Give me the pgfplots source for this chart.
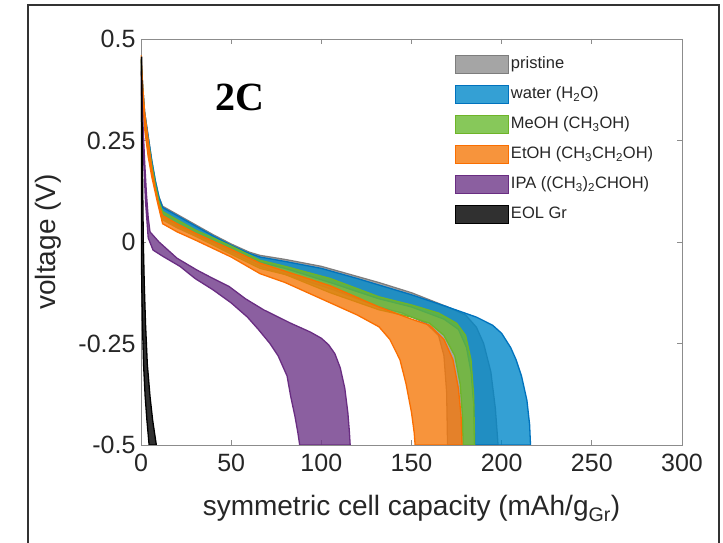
\documentclass[border=0pt]{standalone}
\usepackage{fontspec}
\setmainfont{Liberation Sans}
\newfontfamily\seriffont{Liberation Serif}
\usepackage{pgfplots}
\pgfplotsset{compat=1.18}
\definecolor{cgray}{RGB}{143,143,143}
\definecolor{cgrayE}{RGB}{125,125,125}
\definecolor{cblue}{RGB}{1,136,201}
\definecolor{cblueE}{RGB}{0,114,189}
\definecolor{cgreen}{RGB}{105,186,49}
\definecolor{cgreenE}{RGB}{110,180,40}
\definecolor{corange}{RGB}{245,121,11}
\definecolor{corangeE}{RGB}{250,110,0}
\definecolor{cpurple}{RGB}{110,55,136}
\definecolor{cpurpleE}{RGB}{105,45,130}
\definecolor{cblack}{RGB}{25,25,25}
\definecolor{txt}{RGB}{38,38,38}
\definecolor{axgray}{RGB}{140,140,140}
\begin{document}
\begin{tikzpicture}
\useasboundingbox (-141pt,-98pt) rectangle (582pt,445pt);
\draw[line width=1.4pt, draw=black!80] (-113pt,-100pt) -- (-113pt,440pt) -- (578pt,440pt) -- (578pt,-100pt);
\begin{axis}[
  scale only axis, width=541pt, height=406pt,
  xmin=0, xmax=300, ymin=-0.5, ymax=0.5,
  xtick={0,50,100,150,200,250,300},
  xticklabels={0,50,100,150,200,250,300},
  ytick={-0.5,-0.25,0,0.25,0.5},
  yticklabels={-0.5,-0.25,0,0.25,0.5},
  /pgf/number format/assume math mode=true,
  tick align=inside, major tick length=5pt,
  axis line style={draw=axgray, line width=0.8pt},
  every tick/.style={draw=axgray, line width=0.8pt},
  tick label style={font=\fontsize{25}{30}\selectfont, text=txt},
  xticklabel style={yshift=-6pt},
  yticklabel style={xshift=-2pt},
  label style={font=\fontsize{28}{34}\selectfont, text=txt},
  xlabel={symmetric cell capacity (mAh/g\textsubscript{Gr})},
  ylabel={voltage (V)},
  xlabel style={at={([yshift=-71pt]axis description cs:0.5,0)}, anchor=base},
  ylabel style={at={([xshift=-85pt]axis description cs:0,0.5)}, anchor=base},
  legend style={at={(0.5804,0.9606)}, anchor=north west, draw=none, fill=none,
    inner sep=0pt, row sep=10.6pt, font=\fontsize{16.5}{19}\selectfont, text=txt,
    nodes={inner xsep=1.5pt, inner ysep=0pt, text height=13pt, text depth=5pt}},
  legend cell align=left,
  legend image code/.code={\draw[#1] (0pt,-9pt) rectangle (53pt,9pt);},
]
% pristine
\addplot[draw=cgrayE, line width=1.3pt, fill=cgray, fill opacity=0.8] coordinates {
(0,0.45)(1,0.38)(2,0.32)(4,0.26)(6,0.2)(8,0.15)(10,0.11)(12,0.088)(20,0.068)(30,0.043)(40,0.018)(50,-0.005)(60,-0.025)(66,-0.033)(80,-0.043)(100,-0.06)(120,-0.085)(132,-0.1)(150,-0.125)(170,-0.16)(180,-0.18)(186,-0.21)(190,-0.25)(194,-0.32)(196.5,-0.41)(198,-0.5)
(170,-0.5)(169.5,-0.37)(168,-0.28)(165,-0.23)(158,-0.2)(145,-0.175)(132,-0.16)(105,-0.115)(80,-0.08)(66,-0.06)(50,-0.025)(30,0.015)(20,0.035)(12,0.055)(9,0.12)(6,0.18)(4,0.23)(2,0.3)(1,0.36)(0,0.44)
} -- cycle;
\addlegendentry{pristine}
% water
\addplot[draw=cblueE, line width=1.3pt, fill=cblue, fill opacity=0.8] coordinates {
(0,0.45)(1,0.38)(2,0.32)(4,0.26)(6,0.2)(8,0.15)(10,0.11)(12,0.085)(20,0.065)(30,0.04)(40,0.015)(50,-0.008)(60,-0.028)(66,-0.037)(80,-0.048)(100,-0.065)(120,-0.09)(132,-0.106)(150,-0.13)(170,-0.16)(186,-0.185)(195,-0.205)(200,-0.225)(205,-0.26)(208,-0.29)(211,-0.33)(214,-0.39)(215.5,-0.45)(216,-0.5)
(185,-0.5)(184.5,-0.4)(183,-0.32)(180.5,-0.26)(176,-0.215)(168,-0.19)(150,-0.16)(132,-0.14)(105,-0.1)(80,-0.065)(66,-0.05)(50,-0.02)(30,0.02)(20,0.04)(12,0.06)(9,0.12)(6,0.18)(4,0.23)(2,0.3)(1,0.36)(0,0.44)
} -- cycle;
\addlegendentry{water (H\textsubscript{2}O)}
% MeOH
\addplot[draw=cgreenE, line width=1.3pt, fill=cgreen, fill opacity=0.8] coordinates {
(0,0.45)(1,0.37)(2,0.31)(4,0.25)(6,0.19)(8,0.14)(10,0.1)(12,0.075)(30,0.03)(50,-0.01)(66,-0.045)(80,-0.06)(105,-0.09)(132,-0.135)(150,-0.155)(165,-0.175)(175,-0.2)(180,-0.23)(183,-0.29)(184.5,-0.38)(185,-0.5)
(178.6,-0.5)(178.3,-0.43)(177,-0.35)(174,-0.28)(168,-0.23)(160,-0.2)(150,-0.185)(132,-0.167)(105,-0.125)(80,-0.08)(66,-0.065)(50,-0.03)(30,0.015)(12,0.055)(9,0.11)(6,0.17)(4,0.22)(2,0.29)(1,0.35)(0,0.44)
} -- cycle;
\addlegendentry{MeOH (CH\textsubscript{3}OH)}
% EtOH
\addplot[draw=corangeE, line width=1.3pt, fill=corange, fill opacity=0.8] coordinates {
(0,0.46)(1,0.38)(2,0.32)(4,0.25)(6,0.18)(8,0.13)(10,0.09)(12,0.065)(20,0.045)(30,0.022)(50,-0.018)(66,-0.052)(80,-0.072)(105,-0.108)(132,-0.16)(150,-0.19)(160,-0.205)(168,-0.24)(173,-0.29)(176,-0.36)(177.5,-0.43)(178,-0.5)
(152,-0.5)(151.5,-0.47)(150,-0.42)(147,-0.35)(143.6,-0.29)(138,-0.24)(132,-0.209)(120,-0.18)(105,-0.15)(80,-0.1)(66,-0.078)(50,-0.037)(30,0.005)(20,0.025)(12,0.045)(9,0.1)(6,0.16)(4,0.21)(2,0.28)(1,0.35)(0,0.44)
} -- cycle;
\addlegendentry{EtOH (CH\textsubscript{3}CH\textsubscript{2}OH)}
% IPA
\addplot[draw=cpurpleE, line width=1.3pt, fill=cpurple, fill opacity=0.8] coordinates {
(0,0.42)(1,0.3)(2,0.2)(3,0.12)(4,0.06)(5,0.025)(10,0.0)(20,-0.04)(31,-0.069)(40,-0.09)(49,-0.11)(58,-0.14)(68,-0.167)(83,-0.2)(94,-0.222)(100,-0.237)(104,-0.253)(107.5,-0.275)(110.5,-0.31)(113,-0.36)(114.7,-0.42)(115.6,-0.47)(116,-0.5)
(88,-0.5)(87,-0.47)(85.4,-0.43)(83,-0.38)(81,-0.33)(76,-0.28)(71.5,-0.25)(65,-0.215)(59,-0.185)(50,-0.15)(40,-0.118)(30,-0.09)(21.6,-0.06)(12,-0.035)(6.7,-0.02)(4,0.01)(2.5,0.1)(1.5,0.2)(0.8,0.3)(0,0.41)
} -- cycle;
\addlegendentry{IPA ((CH\textsubscript{3})\textsubscript{2}CHOH)}
% EOL Gr
\addplot[draw=black, line width=1.3pt, fill=cblack, fill opacity=0.9] coordinates {
(0.4,0.455)(0.6,0.3)(0.9,0.15)(1.3,0.0)(1.8,-0.1)(2.5,-0.2)(3.5,-0.3)(5,-0.38)(6.5,-0.44)(8.5,-0.5)
(4.5,-0.5)(3.3,-0.44)(2.3,-0.38)(1.4,-0.3)(0.8,-0.2)(0.4,-0.1)(0.2,0.0)(0.05,0.15)(0,0.3)(0,0.455)
} -- cycle;
\addlegendentry{EOL Gr}
\node[font=\seriffont\bfseries\fontsize{40}{48}\selectfont, text=black] at (axis cs:55,0.357) {2C};
\end{axis}
\end{tikzpicture}
\end{document}
